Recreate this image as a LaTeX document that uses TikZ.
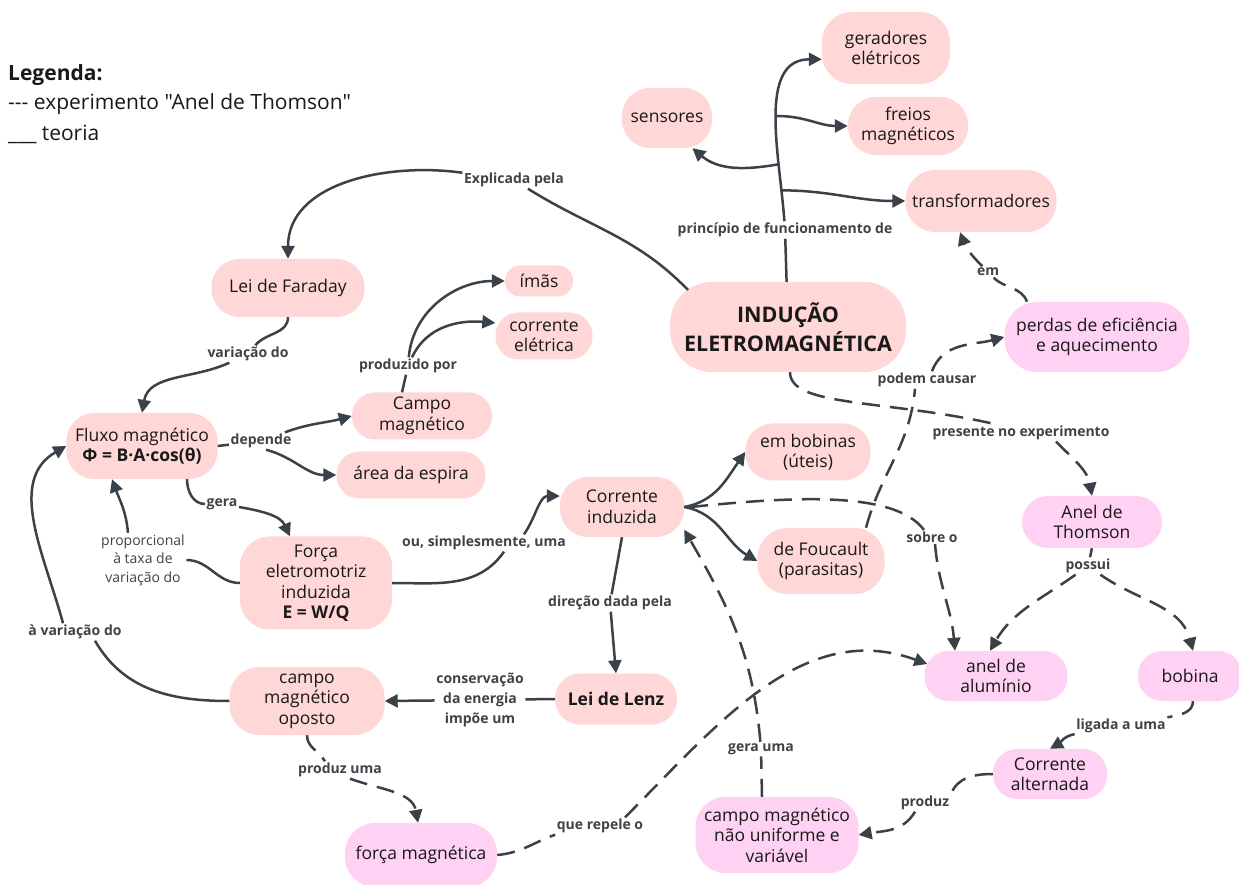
\documentclass[tikz,border=0pt]{standalone}
\usepackage{fontspec}
\setmainfont{Open Sans}
\newfontfamily\legfont{Open Sans}
\usetikzlibrary{positioning, arrows.meta}

\definecolor{salmon}{HTML}{FFD7D7}
\definecolor{orchid}{HTML}{FFD1F3}
\definecolor{ink}{HTML}{3B4148}
\definecolor{lbltext}{HTML}{3F4247}

\newcommand\nodefont{\fontsize{17.5}{20.5}\selectfont}
\newcommand\bigfont{\fontsize{21.5}{29}\selectfont\bfseries}
\newcommand\lblfont{\fontsize{14}{20}\selectfont\bfseries}
\newcommand\lblregfont{\fontsize{14}{18.5}\selectfont}
\newcommand\legsize{\legfont\fontsize{21}{30}\selectfont}

\begin{document}
\begin{tikzpicture}[x=1pt, y=1pt,
        box/.style={rectangle, rounded corners=#1, fill=salmon, align=center, font=\nodefont, text=black!90, inner sep=2pt},
        box/.default=26pt,
        expbox/.style={box=#1, fill=orchid},
        expbox/.default=26pt,
        sz/.style 2 args={minimum width=#1, minimum height=#2},
        lbl/.style={font=\lblfont, text=lbltext, fill=white, inner sep=1.5pt, align=center},
        lblreg/.style={lbl, font=\lblregfont},
        legtext/.style={font=\legsize, text=black!90, inner sep=0pt, anchor=west},
        conn/.style={draw=ink, line width=2.5pt},
        arr/.style={conn, -{Triangle[length=13pt,width=13pt]}},
        dconn/.style={conn, dash pattern=on 18pt off 10pt},
        darr/.style={dconn, -{Triangle[length=13pt,width=13pt]}}
    ]
    \useasboundingbox (0,0) rectangle (1239,884);
    \fill[white] (0,0) rectangle (1239,884);

    % legenda
    \node[legtext] (legtit) at (8,809) {\bfseries Legenda:};
    \node[legtext] (legexp) at (8,780) {--- experimento "Anel de Thomson"};
    \node[legtext] (legteo) at (8,750) {\_\_\_ teoria};

    % conceitos
    \node[box=30pt, sz={128pt}{72pt}] (gerad) at (886,836) {geradores\\elétricos};
    \node[box=28pt, sz={90pt}{60pt}] (sens) at (667,766) {sensores};
    \node[box=28pt, sz={120pt}{58pt}] (freios) at (908,758) {freios\\magnéticos};
    \node[box=30pt, sz={151pt}{62pt}] (transf) at (981,683) {transformadores};
    \node[box=28pt, sz={153pt}{58pt}] (faraday) at (288,596) {Lei de Faraday};
    \node[box=15pt, sz={68pt}{31pt}] (imas) at (539,603) {ímãs};
    \node[box=23pt, sz={97pt}{47pt}] (correl) at (544,548) {corrente\\elétrica};
    \node[box=42pt, sz={236pt}{90pt}, font=\bigfont] (inducao) at (788,557) {INDUÇÃO\\ELETROMAGNÉTICA};
    \node[expbox=33pt, sz={185pt}{70pt}] (perdas) at (1097,547) {perdas de eficiência\\e aquecimento};
    \node[box=23pt, sz={140pt}{47pt}] (campo) at (422,468) {Campo\\magnético};
    \node[box=28pt, sz={151pt}{66pt}] (fluxo) at (142,438) {Fluxo magnético\\\textbf{Φ = B·A·cos(θ)}};
    \node[box=23pt, sz={149pt}{47pt}] (area) at (411,409) {área da espira};
    \node[box=27pt, sz={125pt}{57pt}] (bobinas) at (808,432) {em bobinas\\(úteis)};
    \node[box=28pt, sz={124pt}{60pt}] (corind) at (622,377) {Corrente\\induzida};
    \node[expbox=26pt, sz={140pt}{52pt}] (thomson) at (1092,362) {Anel de\\Thomson};
    \node[box=30pt, sz={152pt}{93pt}] (fem) at (316,301) {Força\\eletromotriz\\induzida\\\textbf{E = W/Q}};
    \node[box=30pt, sz={127pt}{66pt}] (foucault) at (821,323) {de Foucault\\(parasitas)};
    \node[expbox=24pt, sz={143pt}{50pt}] (anel) at (996,208) {anel de\\alumínio};
    \node[expbox=24pt, sz={104pt}{50pt}] (bobina) at (1190,208) {bobina};
    \node[box=30pt, sz={155pt}{68pt}] (oposto) at (307,183) {campo\\magnético\\oposto};
    \node[box=25pt, sz={122pt}{51pt}] (lenz) at (616,185) {\textbf{Lei de Lenz}};
    \node[expbox=24pt, sz={114pt}{50pt}] (ca) at (1050,110) {Corrente\\alternada};
    \node[expbox=30pt, sz={152pt}{64pt}] (forca) at (421,29) {força magnética};
    \node[expbox=30pt, sz={163pt}{76pt}] (naounif) at (777,49) {campo magnético\\não uniforme e\\variável};

    % rótulos das ligações
    \node[lbl] (lexpl) at (514,704) {Explicada pela};
    \node[lbl] (lprinc) at (785,654) {princípio de funcionamento de};
    \node[lbl] (lem) at (988,612) {em};
    \node[lbl] (lprod) at (408,518) {produzido por};
    \node[lbl] (lvar) at (248,530) {variação do};
    \node[lbl] (lpodem) at (927,504) {podem causar};
    \node[lbl] (ldep) at (261,443) {depende};
    \node[lbl] (lpres) at (1021,451) {presente no experimento};
    \node[lbl] (lgera) at (222,380) {gera};
    \node[lbl] (lsobre) at (932,347) {sobre o};
    \node[lblreg] (lprop) at (143,324) {proporcional\\à taxa de\\variação do};
    \node[lbl] (lou) at (484,341) {ou, simplesmente, uma};
    \node[lbl] (lposs) at (1088,318) {possui};
    \node[lbl] (ldir) at (610,281) {direção dada pela};
    \node[lbl] (lavar) at (75,252) {à variação do};
    \node[lbl] (lcons) at (480,184) {conservação\\da energia\\impõe um};
    \node[lbl] (lliga) at (1121,158) {ligada a uma};
    \node[lbl] (lgerauma) at (761,135) {gera uma};
    \node[lbl] (lpuma) at (340,114) {produz uma};
    \node[lbl] (lproduz) at (925,81) {produz};
    \node[lbl] (lrep) at (600,58) {que repele o};

    % teoria (linhas cheias)
    \draw[conn] ([shift={(-100pt,37pt)}]inducao.center) to[out=134,in=-32] (lexpl);
    \draw[arr] (lexpl) to[out=172,in=90] (faraday);
    \draw[conn] (inducao) -- (lprinc);
    \draw[arr] (lprinc) to[out=94,in=180]
        coordinate[pos=0.15] (tr1) coordinate[pos=0.27] (tr2) coordinate[pos=0.5] (tr3)
        (gerad.190);
    \draw[arr] (tr1) to[out=0,in=180] (transf.west);
    \draw[arr] (tr2) to[out=190,in=-40] (sens.-50);
    \draw[arr] (tr3) to[out=0,in=180] (freios.west);
    \draw[conn] (faraday.south) to[out=-90,in=50] (lvar);
    \draw[arr] (lvar) to[out=205,in=80] (fluxo.north);
    \draw[conn] ([xshift=-20pt]campo.north) -- (lprod);
    \draw[arr] (lprod) to[out=85,in=180] (imas.west);
    \draw[arr] (lprod) to[out=65,in=175] (correl.165);
    \draw[conn] (fluxo.east) -- (ldep);
    \draw[arr] (ldep) to[out=20,in=195] (campo.west);
    \draw[arr] (ldep.-60) to[out=-15,in=180] (area.west);
    \draw[conn] ([xshift=45pt]fluxo.south) to[out=-90,in=180] (lgera);
    \draw[arr] (lgera) to[out=-10,in=115] ([xshift=-26pt]fem.north);
    \draw[conn] (fem.west) to[out=180,in=0] (lprop.east);
    \draw[arr] ([xshift=-15pt]lprop.north) to[out=95,in=-70] ([xshift=-30pt]fluxo.south);
    \draw[conn] (fem.east) to[out=0,in=-125] ([xshift=20pt]lou.south);
    \draw[arr] ([xshift=40pt]lou.north) to[out=55,in=180] (corind.170);
    \draw[arr] (corind.east) to[out=10,in=235] (bobinas.west);
    \draw[arr] (corind.east) to[out=-10,in=150] (foucault.west);
    \draw[conn] (corind.south) -- (ldir);
    \draw[arr] (ldir) -- (lenz.north);
    \draw[conn] (lenz.west) -- (lcons);
    \draw[arr] (lcons) -- (oposto.east);
    \draw[conn] (oposto.west) to[out=180,in=-60] ([xshift=20pt]lavar.south);
    \draw[arr] ([xshift=-12pt]lavar.north) to[out=105,in=210] (fluxo.west);

    % experimento (linhas tracejadas)
    \draw[dconn] ([xshift=2pt]inducao.south) .. controls +(0,-35) and +(-110,25) .. ([xshift=-25pt]lpres.north);
    \draw[darr] ([xshift=35pt]lpres.south) to[out=-45,in=100] (thomson.north);
    \draw[dconn] ([xshift=45pt]foucault.north) to[out=75,in=-95] ([xshift=-12pt]lpodem.south);
    \draw[darr] ([xshift=5pt]lpodem.north) to[out=70,in=195] (perdas.west);
    \draw[dconn] ([xshift=-70pt]perdas.north) to[out=110,in=-45] (lem);
    \draw[darr] (lem) to[out=135,in=-70] ([xshift=-21pt]transf.south);
    \draw[dconn] ([xshift=6pt]corind.east) .. controls +(100,10) and +(-30,40) .. ([xshift=-8pt]lsobre.north);
    \draw[darr] ([xshift=3pt]lsobre.south) to[out=-85,in=95] ([xshift=-41pt]anel.north);
    \draw[dconn] (thomson.south) -- (lposs);
    \draw[darr] (lposs) to[out=-145,in=60] ([xshift=-6pt]anel.north);
    \draw[darr] (lposs) to[out=-35,in=105] ([xshift=3pt]bobina.north);
    \draw[dconn] ([xshift=3pt]bobina.south) to[out=-90,in=10] (lliga.north east);
    \draw[darr] (lliga) to[out=190,in=30] (ca.north);
    \draw[dconn] (ca.west) to[out=180,in=70] (lproduz.north east);
    \draw[darr] ([xshift=-10pt]lproduz.south) to[out=-120,in=10] (naounif.east);
    \draw[dconn] ([xshift=-15pt]naounif.north) -- (lgerauma);
    \draw[darr] (lgerauma) to[out=95,in=-60] (corind.-20);
    \draw[dconn] (oposto.south) to[out=-90,in=120] ([xshift=-15pt]lpuma.north);
    \draw[darr] ([xshift=10pt]lpuma.south) to[out=-20,in=100] ([xshift=-3pt]forca.north);
    \draw[dconn] (forca.east) to[out=5,in=-160] (lrep.south west);
    \draw[darr] ([xshift=25pt]lrep.north) to[out=45,in=160] ([shift={(3pt,12pt)}]anel.west);
\end{tikzpicture}
\end{document}
